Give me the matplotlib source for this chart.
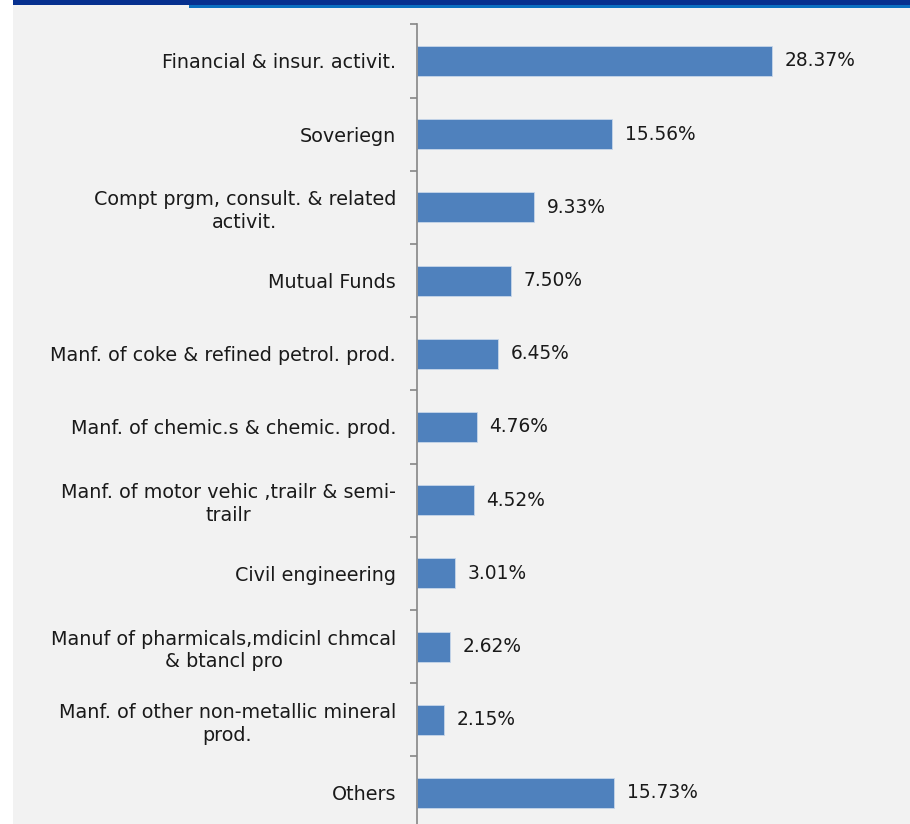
import matplotlib
matplotlib.use("Agg")
import matplotlib.pyplot as plt
from matplotlib.patches import Rectangle

plt.rcParams["font.family"] = ["DejaVu Sans"]

categories = [
    "Financial & insur. activit.",
    "Soveriegn",
    "Compt prgm, consult. & related\nactivit.",
    "Mutual Funds",
    "Manf. of coke & refined petrol. prod.",
    "Manf. of chemic.s & chemic. prod.",
    "Manf. of motor vehic ,trailr & semi-\ntrailr",
    "Civil engineering",
    "Manuf of pharmicals,mdicinl chmcal\n& btancl pro",
    "Manf. of other non-metallic mineral\nprod.",
    "Others",
]
values = [28.37, 15.56, 9.33, 7.50, 6.45, 4.76, 4.52, 3.01, 2.62, 2.15, 15.73]
value_labels = ["28.37%", "15.56%", "9.33%", "7.50%", "6.45%", "4.76%",
                "4.52%", "3.01%", "2.62%", "2.15%", "15.73%"]

W, H = 910, 824
fig = plt.figure(figsize=(W / 100, H / 100), dpi=100)
fig.patch.set_facecolor("white")

# background layer
bg = fig.add_axes([0, 0, 1, 1], zorder=-5)
bg.set_xlim(0, W)
bg.set_ylim(H, 0)
bg.axis("off")
bg.add_patch(Rectangle((13, 0), W - 13, H, facecolor="#f2f2f2", edgecolor="none"))
bg.add_patch(Rectangle((13, 0), W - 13, 5, facecolor="#06308f", edgecolor="none"))
bg.add_patch(Rectangle((189, 5), W - 189, 2.5, facecolor="#0b6fc0", edgecolor="none"))

ax_left = 417 / W
ax_right = 905 / W
ax_top = 1 - 24.4 / H
ax_bot = 1 - 829.6 / H
ax = fig.add_axes([ax_left, ax_bot, ax_right - ax_left, ax_top - ax_bot], zorder=1)
ax.set_facecolor("none")

n = len(categories)
ypos = list(range(n))
ax.barh(ypos, values, height=0.41, color="#4f81bd", edgecolor="#c7d6ea", linewidth=0.6, zorder=2)
ax.set_ylim(n - 0.5, -0.5)
ax.set_xlim(0, (905 - 417) / 12.51)

fs = 13.8
for y, v, lab in zip(ypos, values, value_labels):
    ax.annotate(lab, (v, y), xytext=(13, 0), textcoords="offset pixels",
                va="center", ha="left", fontsize=13.4, color="#1a1a1a")

ax.set_yticks([i + 0.5 for i in range(-1, n)], minor=False)
ax.set_yticklabels([])
ax.set_yticks(ypos, minor=True)
ax.set_yticklabels(categories, minor=True, fontsize=fs, color="#1a1a1a", ha="right",
                   multialignment="center", linespacing=1.25)
ax.tick_params(axis="y", which="major", length=5, width=1.2, color="#868686", direction="out")
ax.tick_params(axis="y", which="minor", length=0, pad=15)
ax.set_xticks([])
for s in ["top", "right", "bottom"]:
    ax.spines[s].set_visible(False)
ax.spines["left"].set_color("#868686")
ax.spines["left"].set_linewidth(1.2)

fig.savefig("out.png", dpi=100, facecolor=fig.get_facecolor())
